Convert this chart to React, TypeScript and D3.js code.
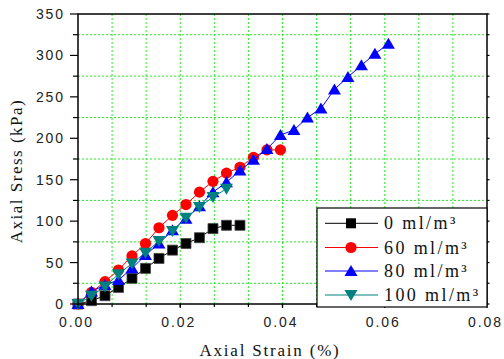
import React from "react";
import * as d3 from "d3";

// Strain step shared by every test (%)
const strainStep = 0.00264;

const stress0 = [0, 4, 10, 20, 31, 43, 55, 65, 73, 80, 91, 95, 95];
const stress60 = [0, 14, 27, 41, 58, 73, 92, 107, 120, 135, 148, 158, 165, 177, 186, 186];
const stress80 = [0, 15, 23, 29, 43, 59, 73, 89, 103, 118, 135, 147, 161, 174, 187, 204, 210, 225, 236, 259, 274, 288, 302, 314];
const stress100 = [0, 10, 21, 36, 49, 62, 76, 88, 104, 117, 129, 139];

const seriesNames = ["0 ml/m³", "60 ml/m³", "80 ml/m³", "100 ml/m³"];
const seriesColors = ["#000000", "#ff0000", "#0000ff", "#008080"];
const seriesShapes = ["square", "circle", "triangleUp", "triangleDown"];

const xTicks = [0, 0.02, 0.04, 0.06, 0.08];
const yTicks = [0, 50, 100, 150, 200, 250, 300, 350];

const W = 504;
const H = 359;
const plot = { left: 78, right: 487, top: 14, bottom: 304 };

const x = d3.scaleLinear().domain([0, 0.08]).range([plot.left, plot.right]);
const y = d3.scaleLinear().domain([0, 350]).range([plot.bottom, plot.top]);

function markerPath(shape: string, cx: number, cy: number): string {
  const p = d3.path();
  if (shape === "square") {
    p.rect(cx - 5, cy - 5, 10, 10);
  } else if (shape === "circle") {
    p.arc(cx, cy, 5.6, 0, Math.PI * 2);
  } else if (shape === "triangleUp") {
    p.moveTo(cx, cy - 6);
    p.lineTo(cx + 6.5, cy + 5);
    p.lineTo(cx - 6.5, cy + 5);
    p.closePath();
  } else {
    p.moveTo(cx - 6.5, cy - 5);
    p.lineTo(cx + 6.5, cy - 5);
    p.lineTo(cx, cy + 6);
    p.closePath();
  }
  return p.toString();
}

export default function App() {
  const allSeries = [stress0, stress60, stress80, stress100];
  const line = d3
    .line<number>()
    .x((_, i) => x(i * strainStep))
    .y((v) => y(v));

  const xGrid = d3.range(1, 12).map((k) => (k * 0.08) / 12);
  const yMinor = d3.range(25, 350, 50);
  const xMinor = d3.range(1, 12).map((k) => (k * 0.08) / 12);
  const yAll = d3.range(25, 350, 25);

  const legend = { x0: 317, y0: 208, x1: 487, y1: 307 };
  const rowY = [223.3, 247.5, 271, 295];

  const tickFont = "'Liberation Sans', Arial, sans-serif";
  const serif = "'Liberation Serif', 'Times New Roman', serif";

  return (
    <svg
      width={W}
      height={H}
      style={{ position: "absolute", left: 0, top: 0, background: "#fff" }}
    >
      {/* grid */}
      <g stroke="#22ee22" strokeWidth={1} strokeDasharray="2,2">
        {xGrid.map((v, i) => (
          <line key={"gx" + i} x1={x(v)} x2={x(v)} y1={plot.top} y2={plot.bottom} />
        ))}
        {yMinor.map((v, i) => (
          <line key={"gy" + i} x1={plot.left} x2={plot.right} y1={y(v)} y2={y(v)} />
        ))}
      </g>

      {/* series */}
      {allSeries.map((s, si) => (
        <g key={"s" + si}>
          <path d={line(s) || ""} fill="none" stroke={seriesColors[si]} strokeWidth={1} />
          {s.map((v, i) => (
            <path
              key={i}
              d={markerPath(seriesShapes[si], x(i * strainStep), y(v))}
              fill={seriesColors[si]}
              stroke={si === 0 ? "#444" : "none"}
              strokeWidth={0.8}
            />
          ))}
        </g>
      ))}

      {/* frame */}
      <rect
        x={plot.left}
        y={plot.top}
        width={plot.right - plot.left}
        height={plot.bottom - plot.top}
        fill="none"
        stroke="#000"
        strokeWidth={1.5}
      />

      {/* axis ticks */}
      <g stroke="#000" strokeWidth={1.2}>
        {yTicks.map((v) => (
          <line key={"ly" + v} x1={plot.left - 8} x2={plot.left} y1={y(v)} y2={y(v)} />
        ))}
        {yMinor.map((v) => (
          <line key={"lym" + v} x1={plot.left - 5} x2={plot.left} y1={y(v)} y2={y(v)} />
        ))}
        {yAll.concat([0, 350]).map((v) => (
          <line key={"ry" + v} x1={plot.right} x2={plot.right + 2.5} y1={y(v)} y2={y(v)} />
        ))}
        {xTicks.map((v) => (
          <line key={"bx" + v} x1={x(v)} x2={x(v)} y1={plot.bottom} y2={plot.bottom + 4} />
        ))}
        {xMinor.map((v, i) => (
          <line key={"bxm" + i} x1={x(v)} x2={x(v)} y1={plot.bottom} y2={plot.bottom + 3} />
        ))}
      </g>

      {/* tick labels */}
      <g fontFamily={tickFont} fontSize={14} fill="#222" letterSpacing={1.9}>
        {yTicks.map((v) => (
          <text key={"tly" + v} x={65} y={y(v) + 5} textAnchor="end">
            {v}
          </text>
        ))}
        {xTicks.map((v) => (
          <text key={"tlx" + v} x={x(v) - 1.5} y={327} textAnchor="middle">
            {d3.format(".2f")(v)}
          </text>
        ))}
      </g>

      {/* axis titles */}
      <text
        x={270}
        y={356}
        textAnchor="middle"
        fontFamily={serif}
        fontSize={17}
        letterSpacing={1.8}
        fill="#111"
      >
        Axial Strain (%)
      </text>
      <text
        transform={`translate(22,171) rotate(-90)`}
        textAnchor="middle"
        fontFamily={serif}
        fontSize={17}
        letterSpacing={1.5}
        fill="#111"
      >
        Axial Sress (kPa)
      </text>

      {/* legend */}
      <rect
        x={legend.x0}
        y={legend.y0}
        width={legend.x1 - legend.x0}
        height={legend.y1 - legend.y0}
        fill="#fff"
        stroke="#000"
        strokeWidth={1.2}
      />
      {seriesNames.map((name, i) => (
        <g key={"lg" + i}>
          <line x1={325} x2={378} y1={rowY[i]} y2={rowY[i]} stroke={seriesColors[i]} strokeWidth={1} />
          <path d={markerPath(seriesShapes[i], 351, rowY[i])} fill={seriesColors[i]} />
          <text
            x={384}
            y={rowY[i] + 6}
            fontFamily={serif}
            fontSize={18}
            letterSpacing={2.4}
            fill="#111"
          >
            {name}
          </text>
        </g>
      ))}
    </svg>
  );
}
